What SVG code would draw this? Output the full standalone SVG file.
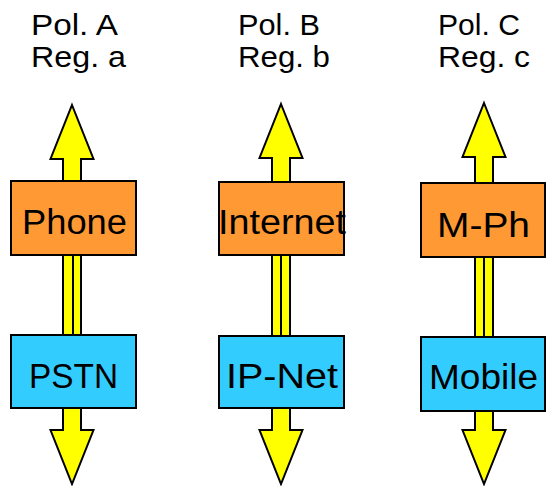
<svg xmlns="http://www.w3.org/2000/svg" width="546" height="486" viewBox="0 0 546 486">
<style>
.t{font-family:"Liberation Sans",Arial,sans-serif;font-size:29px;fill:#000}
.l{font-family:"Liberation Sans",Arial,sans-serif;font-size:35px;fill:#000;text-anchor:middle}
.arr{fill:#FFFF00;stroke:#000;stroke-width:2;stroke-linejoin:miter}
.top{fill:#FF9933;stroke:#000;stroke-width:2}
.bot{fill:#33CCFF;stroke:#000;stroke-width:2}
</style>
<defs>
<path id="up" d="M0,0 L21.5,54 L9,54 L9,80 L-9,80 L-9,54 L-21.5,54 Z"/>
<path id="down" d="M-9,0 L9,0 L9,23 L21.5,23 L0,77 L-21.5,23 L-9,23 Z"/>
</defs>
<g id="titles">
<text class="t" x="31" y="35" textLength="87" lengthAdjust="spacingAndGlyphs">Pol. A</text>
<text class="t" x="31" y="67" textLength="95" lengthAdjust="spacingAndGlyphs">Reg. a</text>
<text class="t" x="238" y="35" textLength="82" lengthAdjust="spacingAndGlyphs">Pol. B</text>
<text class="t" x="238" y="67" textLength="92" lengthAdjust="spacingAndGlyphs">Reg. b</text>
<text class="t" x="438" y="35" textLength="82" lengthAdjust="spacingAndGlyphs">Pol. C</text>
<text class="t" x="438" y="67" textLength="92" lengthAdjust="spacingAndGlyphs">Reg. c</text>
</g>
<g id="connectors">
<use href="#up" class="arr" x="72" y="105"/>
<rect class="arr" x="63" y="254" width="10" height="82"/>
<rect class="arr" x="73" y="254" width="8" height="82"/>
<use href="#down" class="arr" x="72" y="407"/>
<use href="#up" class="arr" x="281" y="104"/>
<rect class="arr" x="272" y="254" width="9" height="83"/>
<rect class="arr" x="281" y="254" width="9" height="83"/>
<use href="#down" class="arr" x="281" y="407"/>
<use href="#up" class="arr" x="484" y="103"/>
<rect class="arr" x="475" y="256" width="9" height="82"/>
<rect class="arr" x="484" y="256" width="9" height="82"/>
<use href="#down" class="arr" x="484" y="407"/>
</g>
<g id="phone">
<rect class="top" x="11" y="181" width="125" height="74"/>
<text class="l" x="74.5" y="234" textLength="105" lengthAdjust="spacingAndGlyphs">Phone</text>
</g>
<g id="pstn">
<rect class="bot" x="11" y="335" width="125" height="73"/>
<text class="l" x="73.5" y="388" textLength="89" lengthAdjust="spacingAndGlyphs">PSTN</text>
</g>
<g id="internet">
<rect class="top" x="219" y="182" width="125" height="73"/>
<text class="l" x="282" y="234" textLength="128" lengthAdjust="spacingAndGlyphs">Internet</text>
</g>
<g id="ipnet">
<rect class="bot" x="219" y="336" width="125" height="72"/>
<text class="l" x="282" y="388" textLength="112" lengthAdjust="spacingAndGlyphs">IP-Net</text>
</g>
<g id="mph">
<rect class="top" x="421" y="183" width="124" height="74"/>
<text class="l" x="483.5" y="237" textLength="93" lengthAdjust="spacingAndGlyphs">M-Ph</text>
</g>
<g id="mobile">
<rect class="bot" x="421" y="337" width="124" height="74"/>
<text class="l" x="483.5" y="389" textLength="109" lengthAdjust="spacingAndGlyphs">Mobile</text>
</g>
</svg>
